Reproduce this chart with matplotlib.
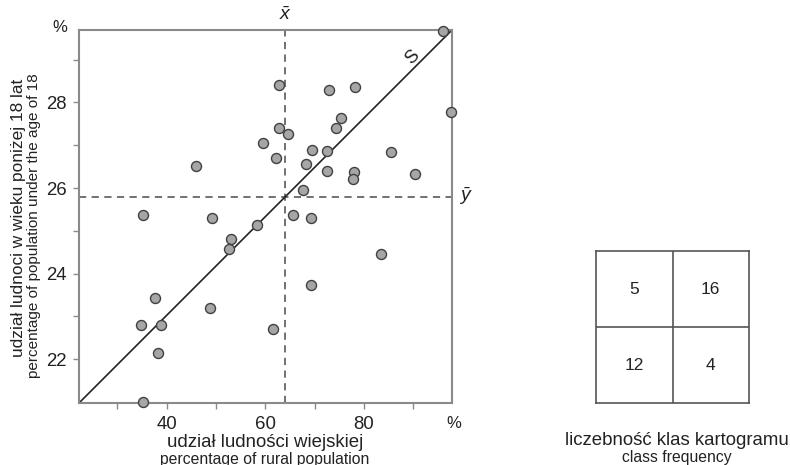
import matplotlib
matplotlib.use("Agg")
import matplotlib.pyplot as plt
import numpy as np

plt.rcParams['font.family'] = ['Liberation Sans', 'DejaVu Sans']
plt.rcParams['mathtext.fontset'] = 'custom'
plt.rcParams['mathtext.rm'] = 'Liberation Sans'
plt.rcParams['mathtext.it'] = 'Liberation Sans:italic'

# data: rural population share (%) vs share of population under 18 (%)
rural = [96.1, 62.85, 72.9, 78.25, 97.6, 75.3, 74.4, 62.85, 64.6, 59.5,
         69.5, 72.5, 85.5, 62.2, 46.0, 68.2, 72.5, 78.0, 77.8, 90.3,
         67.7, 35.1, 49.2, 65.7, 69.3, 58.4, 53.1, 52.7, 83.4, 69.3,
         37.6, 48.7, 34.7, 38.8, 61.6, 38.2, 35.1]
under18 = [29.67, 28.40, 28.28, 28.37, 27.78, 27.63, 27.39, 27.39, 27.25, 27.06,
           26.89, 26.86, 26.83, 26.71, 26.52, 26.55, 26.40, 26.37, 26.21, 26.33,
           25.95, 25.38, 25.30, 25.38, 25.30, 25.13, 24.82, 24.57, 24.45, 23.73,
           23.43, 23.20, 22.81, 22.81, 22.70, 22.14, 21.00]
x_mean = 64.1
y_mean = 25.8
x_lim = (22.2, 97.9)
y_lim = (20.98, 29.69)
x_ticks = [30, 40, 50, 60, 70, 80, 90]
x_labels = ['', '40', '', '60', '', '80', '']
y_ticks = [22, 23, 24, 25, 26, 27, 28, 29]
y_labels = ['22', '', '24', '', '26', '', '28', '']
class_counts = [[5, 16], [12, 4]]

txt = '#222222'
fig = plt.figure(figsize=(7.9, 4.65), dpi=100)
ax = fig.add_axes([79/790, 62/465, 373/790, 373/465])
ax.set_xlim(*x_lim)
ax.set_ylim(*y_lim)

spine_col = '#8a8a8a'
for s in ax.spines.values():
    s.set_color(spine_col)
    s.set_linewidth(1.5)

ax.set_xticks(x_ticks)
ax.set_xticklabels(x_labels)
ax.set_yticks(y_ticks)
ax.set_yticklabels(y_labels)
ax.tick_params(direction='out', length=4, width=1, color='#8a8a8a',
               labelsize=13.4, pad=5, labelcolor=txt)

# mean lines
ax.axvline(x_mean, color='#666666', lw=1.3, ls=(0, (4, 3)), zorder=1)
ax.axhline(y_mean, color='#666666', lw=1.3, ls=(0, (4, 3)), zorder=1)
# diagonal S line
ax.plot([x_lim[0], x_lim[1]], [y_lim[0], y_lim[1]], color='#222222', lw=1.2, zorder=2)

ax.scatter(rural, under18, s=52, facecolor='#a6a6a6', edgecolor='#404040',
           linewidth=1.0, zorder=3, clip_on=False)

ax.text(x_mean, 1.015, r'$\bar{x}$', transform=ax.get_xaxis_transform(),
        ha='center', va='bottom', fontsize=14, color=txt)
ax.text(1.02, y_mean, r'$\bar{y}$', transform=ax.get_yaxis_transform(),
        ha='left', va='center', fontsize=14, color=txt)
ax.text(89.8, 29.06, 'S', rotation=45, fontsize=13.4, ha='center', va='center',
        color=txt)

fig.text(60/790, 1 - 27/465, '%', fontsize=12, ha='center', va='center', color=txt)
fig.text(454/790, 1 - 423/465, '%', fontsize=12, ha='center', va='center', color=txt)

fig.text(265/790, 1 - 442/465, 'udział ludności wiejskiej', fontsize=13.4,
         ha='center', va='center', color=txt)
fig.text(265/790, 1 - 459/465, 'percentage of rural population', fontsize=11.3,
         ha='center', va='center', color=txt)
fig.text(18.5/790, 1 - 218/465, 'udział ludnoci w wieku poniżej 18 lat', fontsize=12.4,
         ha='center', va='center', rotation=90, color=txt)
fig.text(34.5/790, 1 - 226/465, 'percentage of population under the age of 18', fontsize=11.0,
         ha='center', va='center', rotation=90, color=txt)

# class frequency box
bx = fig.add_axes([596/790, 62/465, 153/790, 152/465])
bx.set_xlim(0, 2)
bx.set_ylim(0, 2)
bx.set_xticks([])
bx.set_yticks([])
for s in bx.spines.values():
    s.set_color('#555555')
    s.set_linewidth(1.2)
bx.axvline(1, color='#555555', lw=1.2)
bx.axhline(1, color='#555555', lw=1.2)
for r, row in enumerate(class_counts):
    for c, v in enumerate(row):
        bx.text(c + 0.5, 1.5 - r, str(v), ha='center', va='center', fontsize=12.5,
                color=txt)

fig.text(677/790, 1 - 440/465, 'liczebność klas kartogramu', fontsize=13.4,
         ha='center', va='center', color=txt)
fig.text(677/790, 1 - 457/465, 'class frequency', fontsize=11.3,
         ha='center', va='center', color=txt)

fig.savefig('out.png', dpi=100)
